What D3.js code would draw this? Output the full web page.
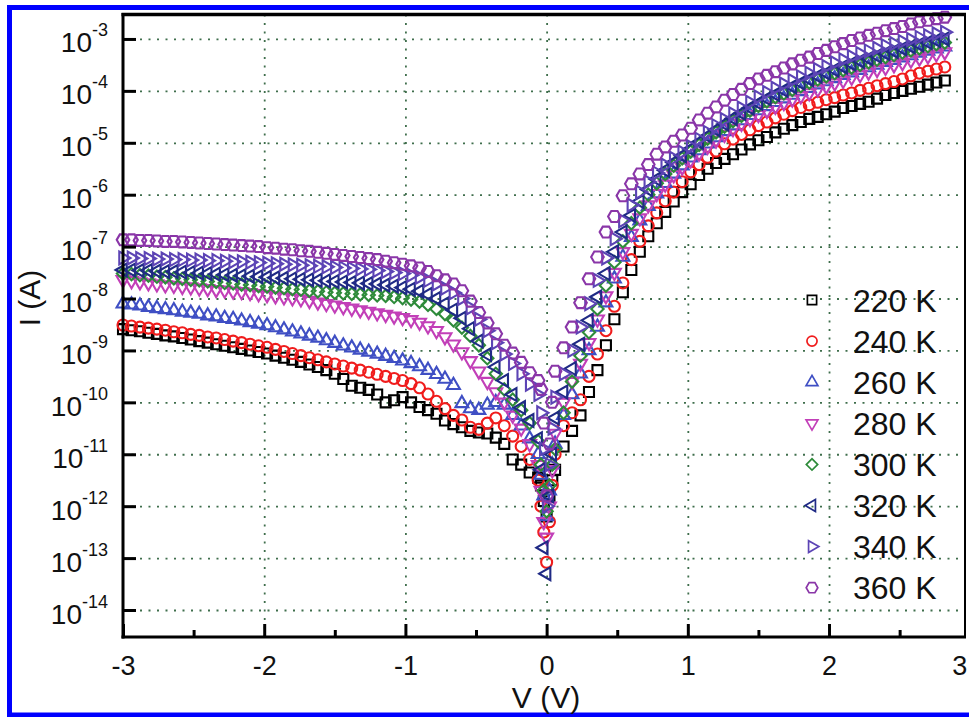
<!DOCTYPE html>
<html lang="en">
<head>
  <meta charset="utf-8">
  <title>I-V curves, 220-360 K</title>
  <script src="https://cdn.jsdelivr.net/npm/d3@7"></script>
  <style>
    body { margin: 0; background: #fff; }
    svg { display: block; font-family: 'Liberation Sans', Arial, sans-serif; }
    .grid line { stroke: #3f6e4c; stroke-width: 1.8; stroke-dasharray: 2, 6.5; }
    .ticks line { stroke: #000; stroke-width: 3; }
  </style>
</head>
<body>
  <svg id="chart" width="969" height="717"></svg>
  <script>
    // Bias voltage (V), shared by every temperature
    var voltage = [
      -3.00,-2.94,-2.88,-2.82,-2.76,-2.70,-2.64,-2.58,-2.52,-2.46,
      -2.40,-2.34,-2.28,-2.22,-2.16,-2.10,-2.04,-1.98,-1.92,-1.86,
      -1.80,-1.74,-1.68,-1.62,-1.56,-1.50,-1.44,-1.38,-1.32,-1.26,
      -1.20,-1.14,-1.08,-1.02,-0.96,-0.90,-0.84,-0.78,-0.72,-0.66,
      -0.60,-0.54,-0.48,-0.42,-0.36,-0.30,-0.24,-0.18,-0.12,-0.06,
      -0.04,-0.02,0,0.02,0.04,
      0.06,0.12,0.18,0.24,0.30,0.36,0.42,0.48,0.54,0.60,
      0.66,0.72,0.78,0.84,0.90,0.96,1.02,1.08,1.14,1.20,
      1.26,1.32,1.38,1.44,1.50,1.56,1.62,1.68,1.74,1.80,
      1.86,1.92,1.98,2.04,2.10,2.16,2.22,2.28,2.34,2.40,
      2.46,2.52,2.58,2.64,2.70,2.76,2.82
    ];

    // log10 of current (A) for each temperature
    var logI220 = [
      -8.59,-8.61,-8.63,-8.66,-8.68,-8.71,-8.73,-8.76,-8.79,-8.82,
      -8.85,-8.88,-8.91,-8.94,-8.97,-9.00,-9.03,-9.06,-9.10,-9.14,
      -9.18,-9.22,-9.27,-9.32,-9.38,-9.45,-9.55,-9.68,-9.72,-9.76,
      -9.85,-10.00,-9.96,-9.90,-10.00,-10.09,-10.15,-10.22,-10.35,-10.42,
      -10.48,-10.55,-10.58,-10.60,-10.68,-10.80,-11.10,-11.20,-11.35,-11.45,
      -11.60,-11.90,-12.20,-11.80,-11.50,
      -11.30,-10.85,-10.55,-10.25,-9.80,-9.38,-8.90,-8.40,-7.88,-7.45,
      -7.10,-6.80,-6.55,-6.33,-6.13,-5.95,-5.80,-5.62,-5.50,-5.39,
      -5.31,-5.22,-5.13,-5.03,-4.95,-4.89,-4.80,-4.73,-4.66,-4.60,
      -4.54,-4.50,-4.45,-4.40,-4.33,-4.29,-4.25,-4.21,-4.15,-4.08,
      -4.04,-4.00,-3.96,-3.92,-3.88,-3.84,-3.80
    ];
    var logI240 = [
      -8.51,-8.53,-8.55,-8.57,-8.59,-8.61,-8.64,-8.66,-8.69,-8.71,
      -8.74,-8.76,-8.79,-8.82,-8.85,-8.88,-8.91,-8.94,-8.98,-9.02,
      -9.06,-9.10,-9.14,-9.18,-9.22,-9.26,-9.30,-9.34,-9.38,-9.42,
      -9.46,-9.50,-9.54,-9.58,-9.64,-9.72,-9.84,-9.98,-10.12,-10.25,
      -10.34,-10.48,-10.52,-10.40,-10.30,-10.45,-10.65,-10.85,-11.10,-11.50,
      -12.00,-12.50,-13.08,-12.30,-11.60,
      -11.00,-10.45,-10.20,-9.95,-9.50,-9.07,-8.62,-8.15,-7.70,-7.25,
      -6.90,-6.60,-6.35,-6.12,-5.95,-5.75,-5.56,-5.42,-5.28,-5.16,
      -5.02,-4.93,-4.84,-4.75,-4.67,-4.60,-4.52,-4.45,-4.38,-4.32,
      -4.27,-4.22,-4.17,-4.13,-4.08,-4.04,-3.99,-3.95,-3.90,-3.86,
      -3.82,-3.77,-3.71,-3.66,-3.62,-3.58,-3.54
    ];
    var logI260 = [
      -8.10,-8.12,-8.14,-8.17,-8.19,-8.21,-8.23,-8.26,-8.28,-8.30,
      -8.33,-8.35,-8.38,-8.40,-8.43,-8.46,-8.49,-8.52,-8.56,-8.60,
      -8.64,-8.68,-8.72,-8.76,-8.81,-8.86,-8.91,-8.95,-8.99,-9.03,
      -9.07,-9.11,-9.15,-9.20,-9.25,-9.31,-9.38,-9.46,-9.55,-9.67,
      -10.02,-10.12,-10.15,-10.05,-10.00,-10.05,-10.25,-10.45,-10.70,-11.00,
      -11.40,-11.80,-12.20,-11.70,-11.20,
      -10.80,-10.25,-9.85,-9.45,-9.00,-8.55,-8.08,-7.62,-7.20,-6.82,
      -6.50,-6.22,-5.98,-5.78,-5.60,-5.44,-5.29,-5.15,-5.02,-4.90,
      -4.78,-4.67,-4.57,-4.47,-4.38,-4.30,-4.22,-4.15,-4.08,-4.01,
      -3.95,-3.88,-3.82,-3.76,-3.70,-3.65,-3.60,-3.55,-3.50,-3.45,
      -3.41,-3.36,-3.32,-3.27,-3.23,-3.19,-3.15
    ];
    var logI280 = [
      -7.64,-7.66,-7.68,-7.70,-7.72,-7.74,-7.75,-7.77,-7.78,-7.80,
      -7.81,-7.83,-7.84,-7.86,-7.87,-7.89,-7.91,-7.93,-7.95,-7.97,
      -7.99,-8.01,-8.04,-8.07,-8.10,-8.13,-8.16,-8.19,-8.22,-8.25,
      -8.28,-8.31,-8.34,-8.37,-8.41,-8.46,-8.53,-8.62,-8.74,-8.88,
      -9.03,-9.20,-9.40,-9.60,-9.80,-10.00,-10.25,-10.50,-10.80,-11.20,
      -11.70,-12.30,-12.60,-12.00,-11.30,
      -10.60,-10.00,-9.60,-9.25,-8.85,-8.40,-7.95,-7.50,-7.10,-6.75,
      -6.45,-6.20,-5.98,-5.80,-5.62,-5.47,-5.33,-5.20,-5.07,-4.95,
      -4.84,-4.73,-4.63,-4.54,-4.46,-4.38,-4.30,-4.23,-4.16,-4.10,
      -4.04,-3.97,-3.91,-3.85,-3.80,-3.74,-3.69,-3.64,-3.59,-3.55,
      -3.50,-3.46,-3.41,-3.37,-3.33,-3.29,-3.25
    ];
    var logI300 = [
      -7.52,-7.53,-7.55,-7.56,-7.58,-7.59,-7.61,-7.62,-7.64,-7.65,
      -7.67,-7.68,-7.70,-7.71,-7.73,-7.74,-7.76,-7.77,-7.79,-7.80,
      -7.82,-7.83,-7.85,-7.86,-7.88,-7.89,-7.90,-7.91,-7.92,-7.93,
      -7.94,-7.95,-7.97,-7.99,-8.02,-8.06,-8.12,-8.20,-8.30,-8.42,
      -8.56,-8.72,-8.90,-9.15,-9.45,-9.75,-9.95,-10.15,-10.40,-10.75,
      -11.20,-11.70,-12.10,-11.60,-11.20,
      -10.90,-10.20,-9.60,-9.10,-8.65,-8.20,-7.75,-7.30,-6.90,-6.55,
      -6.25,-6.00,-5.78,-5.60,-5.44,-5.30,-5.17,-5.04,-4.92,-4.80,
      -4.69,-4.58,-4.48,-4.38,-4.29,-4.20,-4.12,-4.05,-3.98,-3.91,
      -3.84,-3.78,-3.72,-3.66,-3.60,-3.55,-3.50,-3.45,-3.40,-3.35,
      -3.31,-3.26,-3.22,-3.18,-3.14,-3.10,-3.07
    ];
    var logI320 = [
      -7.45,-7.45,-7.46,-7.46,-7.47,-7.48,-7.48,-7.49,-7.50,-7.51,
      -7.52,-7.53,-7.54,-7.55,-7.56,-7.57,-7.58,-7.59,-7.60,-7.61,
      -7.62,-7.63,-7.64,-7.65,-7.66,-7.67,-7.68,-7.69,-7.70,-7.71,
      -7.72,-7.74,-7.76,-7.79,-7.82,-7.86,-7.92,-8.00,-8.10,-8.22,
      -8.38,-8.58,-8.82,-9.08,-9.32,-9.58,-9.85,-10.10,-10.35,-10.70,
      -11.30,-12.80,-13.30,-11.80,-11.00,
      -10.30,-9.80,-9.35,-8.88,-8.42,-7.97,-7.52,-7.10,-6.72,-6.40,
      -6.13,-5.90,-5.70,-5.53,-5.38,-5.25,-5.12,-4.99,-4.87,-4.75,
      -4.64,-4.53,-4.43,-4.33,-4.24,-4.15,-4.07,-3.99,-3.92,-3.85,
      -3.78,-3.72,-3.66,-3.60,-3.54,-3.48,-3.43,-3.38,-3.33,-3.28,
      -3.24,-3.19,-3.15,-3.11,-3.07,-3.03,-3.00
    ];
    var logI340 = [
      -7.22,-7.22,-7.23,-7.23,-7.24,-7.24,-7.25,-7.25,-7.26,-7.26,
      -7.27,-7.27,-7.28,-7.29,-7.29,-7.30,-7.31,-7.32,-7.33,-7.34,
      -7.35,-7.36,-7.37,-7.38,-7.39,-7.40,-7.41,-7.42,-7.43,-7.44,
      -7.46,-7.48,-7.50,-7.52,-7.55,-7.59,-7.65,-7.72,-7.80,-7.89,
      -8.00,-8.18,-8.40,-8.62,-8.85,-9.07,-9.25,-9.45,-9.65,-9.85,
      -10.20,-10.90,-12.00,-11.20,-10.50,
      -9.90,-9.45,-9.00,-8.55,-8.10,-7.65,-7.22,-6.85,-6.50,-6.20,
      -5.95,-5.75,-5.58,-5.43,-5.30,-5.18,-5.07,-4.93,-4.80,-4.67,
      -4.55,-4.44,-4.33,-4.22,-4.12,-4.03,-3.95,-3.87,-3.80,-3.73,
      -3.66,-3.59,-3.53,-3.46,-3.40,-3.34,-3.28,-3.23,-3.18,-3.13,
      -3.09,-3.05,-3.01,-2.97,-2.94,-2.90,-2.87
    ];
    var logI360 = [
      -6.87,-6.87,-6.88,-6.88,-6.89,-6.90,-6.90,-6.91,-6.92,-6.93,
      -6.94,-6.95,-6.96,-6.97,-6.98,-6.99,-7.00,-7.02,-7.03,-7.05,
      -7.06,-7.08,-7.09,-7.11,-7.13,-7.15,-7.17,-7.19,-7.21,-7.23,
      -7.25,-7.28,-7.31,-7.34,-7.37,-7.41,-7.48,-7.56,-7.64,-7.72,
      -7.85,-8.05,-8.27,-8.47,-8.68,-8.90,-9.05,-9.23,-9.43,-9.58,
      -9.75,-10.40,-11.80,-10.80,-10.00,
      -9.40,-8.95,-8.55,-8.08,-7.62,-7.20,-6.72,-6.42,-6.02,-5.79,
      -5.60,-5.42,-5.22,-5.08,-4.97,-4.85,-4.72,-4.56,-4.43,-4.31,
      -4.18,-4.07,-3.97,-3.86,-3.77,-3.70,-3.63,-3.56,-3.48,-3.41,
      -3.35,-3.28,-3.22,-3.15,-3.09,-3.03,-2.98,-2.93,-2.89,-2.84,
      -2.80,-2.76,-2.71,-2.67,-2.64,-2.61,-2.58
    ];

    var temperatures = ["220 K", "240 K", "260 K", "280 K", "300 K", "320 K", "340 K", "360 K"];
    var xTicks = [-3, -2, -1, 0, 1, 2, 3];
    var xMinorTicks = [-2.5, -1.5, -0.5, 0.5, 1.5, 2.5];
    var yExponents = [-3, -4, -5, -6, -7, -8, -9, -10, -11, -12, -13, -14];

    // styles, one per temperature
    var colors = ["#000000", "#f01c1c", "#3f4fc4", "#c23fb8", "#2e8b3a", "#1f2a85", "#5c44b5", "#8a36a8"];
    var shapes = ["square", "circle", "up", "down", "diamond", "left", "right", "hexagon"];

    var svg = d3.select("#chart");
    var plotLeft = 123, plotRight = 966, plotTop = 13, plotBottom = 637;

    var x = d3.scaleLinear().domain([-3, 2.97]).range([plotLeft, plotRight]);
    var y = d3.scaleLog().domain([Math.pow(10, -14.52), Math.pow(10, -2.5)]).range([plotBottom, plotTop]);
    var yTickValues = yExponents.map(function(e) { return Math.pow(10, e); });

    // outer blue frame
    svg.append("rect")
      .attr("x", 9.5).attr("y", 7.5)
      .attr("width", 990).attr("height", 707.5)
      .attr("fill", "none").attr("stroke", "#0000ff").attr("stroke-width", 5);

    // dotted grid
    svg.append("g").attr("class", "grid")
      .attr("transform", "translate(0," + plotBottom + ")")
      .call(d3.axisBottom(x).tickValues([-2, -1, 0, 1, 2]).tickSize(-(plotBottom - plotTop)).tickFormat(""))
      .call(function(g) { g.select(".domain").remove(); });
    svg.append("g").attr("class", "grid")
      .attr("transform", "translate(" + plotLeft + ",0)")
      .call(d3.axisLeft(y).tickValues(yTickValues).tickSize(-(plotRight - plotLeft)).tickFormat(""))
      .call(function(g) { g.select(".domain").remove(); });

    // marker shapes
    function hexagon(r) {
      var pts = [];
      for (var i = 0; i < 6; i++) {
        var a = Math.PI / 3 * i;
        pts.push([r * Math.cos(a), r * Math.sin(a)]);
      }
      return "M" + pts.join("L") + "Z";
    }
    function markerPath(shape, k) {
      switch (shape) {
        case "square": return d3.symbol(d3.symbolSquare, 100 * k)();
        case "circle": return d3.symbol(d3.symbolCircle, 95 * k)();
        case "diamond": return d3.symbol(d3.symbolSquare, 76 * k)();
        case "hexagon": return hexagon(6.3 * Math.sqrt(k));
        default: return d3.symbol(d3.symbolTriangle, 72 * k)();
      }
    }
    function markerRotation(shape) {
      switch (shape) {
        case "down": return 180;
        case "left": return -90;
        case "right": return 90;
        case "diamond": return 45;
        default: return 0;
      }
    }

    var series = [logI220, logI240, logI260, logI280, logI300, logI320, logI340, logI360];

    series.forEach(function(vals, si) {
      var pts = voltage.map(function(v, i) { return [v, Math.pow(10, vals[i])]; });
      svg.append("g")
        .attr("fill", "none")
        .attr("stroke", colors[si])
        .attr("stroke-width", 2.1)
        .selectAll("path")
        .data(pts)
        .join("path")
        .attr("d", markerPath(shapes[si], 1))
        .attr("transform", function(d) {
          return "translate(" + x(d[0]) + "," + y(d[1]) + ") rotate(" + markerRotation(shapes[si]) + ")";
        });
    });

    // ticks (inward)
    svg.append("g").attr("class", "ticks")
      .attr("transform", "translate(0," + plotBottom + ")")
      .call(d3.axisBottom(x).tickValues(xTicks).tickSize(-13).tickPadding(0))
      .call(function(g) {
        g.select(".domain").remove();
        g.selectAll("text")
          .attr("y", 38).attr("dy", null)
          .attr("x", function(d) { return d === 3 ? -11 : 0; })
          .attr("font-size", 27).attr("font-family", "'Liberation Sans', Arial, sans-serif")
          .attr("fill", "#111")
          .text(function(d) { return d; });
      });
    svg.append("g").attr("class", "ticks")
      .attr("transform", "translate(0," + plotBottom + ")")
      .call(d3.axisBottom(x).tickValues(xMinorTicks).tickSize(-7).tickFormat(""))
      .call(function(g) { g.select(".domain").remove(); });

    svg.append("g").attr("class", "ticks")
      .attr("transform", "translate(" + plotLeft + ",0)")
      .call(d3.axisLeft(y).tickValues(yTickValues).tickSize(-13).tickFormat(""))
      .call(function(g) {
        g.select(".domain").remove();
        g.selectAll(".tick").each(function(d, i) {
          var t = d3.select(this).select("text")
            .attr("x", 108 - plotLeft).attr("dy", null).attr("y", 13)
            .attr("text-anchor", "end")
            .attr("font-family", "'Liberation Sans', Arial, sans-serif")
            .attr("fill", "#111");
          t.append("tspan").attr("font-size", 28).text("10");
          t.append("tspan").attr("font-size", 18).attr("dy", -16).text(yExponents[i]);
        });
      });

    // plot frame
    svg.append("line").attr("x1", plotLeft).attr("x2", plotLeft).attr("y1", plotTop).attr("y2", plotBottom + 1.5)
      .attr("stroke", "#000").attr("stroke-width", 3);
    svg.append("line").attr("x1", plotLeft - 1.5).attr("x2", plotRight).attr("y1", plotBottom).attr("y2", plotBottom)
      .attr("stroke", "#000").attr("stroke-width", 3);
    svg.append("line").attr("x1", plotLeft - 1.5).attr("x2", plotRight).attr("y1", plotTop + 1.5).attr("y2", plotTop + 1.5)
      .attr("stroke", "#000").attr("stroke-width", 3.5);
    svg.append("line").attr("x1", plotRight - 1).attr("x2", plotRight - 1).attr("y1", plotTop).attr("y2", plotBottom)
      .attr("stroke", "#000").attr("stroke-width", 2);

    // axis titles
    svg.append("text")
      .attr("x", 546).attr("y", 708)
      .attr("text-anchor", "middle").attr("font-size", 30).attr("fill", "#111")
      .text("V (V)");
    svg.append("text")
      .attr("transform", "translate(40,298) rotate(-90)")
      .attr("text-anchor", "middle").attr("font-size", 30).attr("fill", "#111")
      .text("I (A)");

    // legend
    var legend = svg.append("g");
    temperatures.forEach(function(name, i) {
      var cy = 300 + i * 41.1;
      legend.append("path")
        .attr("d", markerPath(shapes[i], 0.85))
        .attr("transform", "translate(812," + cy + ") rotate(" + markerRotation(shapes[i]) + ")")
        .attr("fill", "none").attr("stroke", colors[i]).attr("stroke-width", 1.7);
      legend.append("text")
        .attr("x", 853).attr("y", cy + 11.5)
        .attr("font-size", 32).attr("fill", "#111")
        .text(name);
    });
  </script>
</body>
</html>
